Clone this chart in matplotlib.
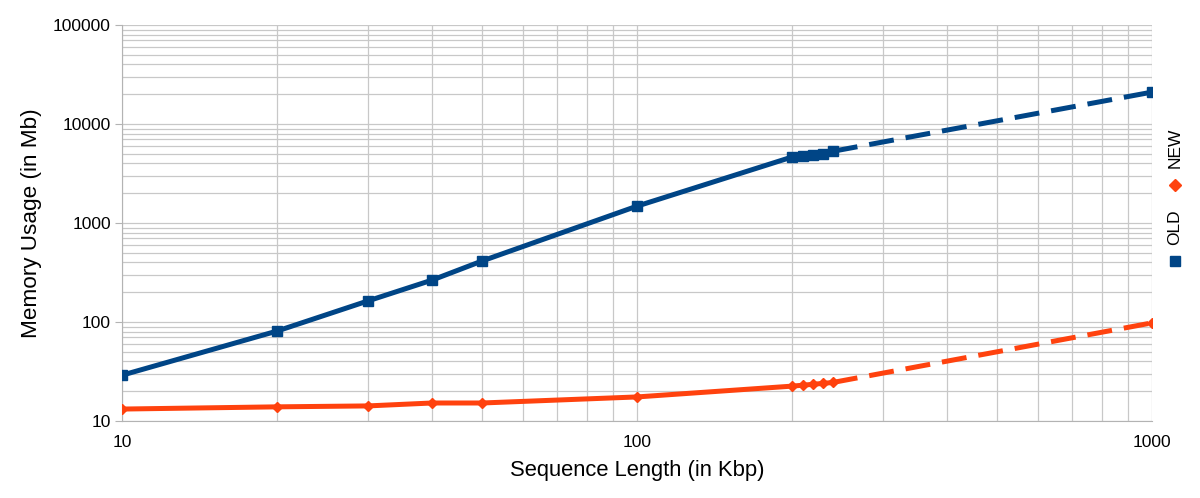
import matplotlib
matplotlib.use('Agg')
import matplotlib.pyplot as plt
from matplotlib.lines import Line2D

plt.rcParams['font.family'] = ['Liberation Sans', 'DejaVu Sans']

# measured points (solid part)
seq_len = [10, 20, 30, 40, 50, 100, 200, 210, 220, 230, 240]
old_mem = [29, 81, 163, 265, 413, 1480, 4640, 4800, 4900, 5000, 5300]
new_mem = [13.2, 13.9, 14.2, 15.2, 15.2, 17.5, 22.5, 23, 23.5, 24, 24.5]

# extrapolated part (dashed)
ext_len = [240, 1000]
old_ext = [5300, 21000]
new_ext = [24.5, 98]

blue = '#004586'
orange = '#ff420e'
lw = 3.6
dash = (0, (5, 2.4))

fig = plt.figure(figsize=(12, 4.98), dpi=100)
ax = fig.add_axes([122/1200, 77/498, 1030/1200, 396/498])

ax.plot(seq_len, old_mem, color=blue, lw=lw, marker='s', ms=7, zorder=3)
ax.plot(ext_len, old_ext, color=blue, lw=lw, ls=dash, zorder=3)
ax.plot([1000], [old_ext[-1]], color=blue, marker='s', ms=7, ls='none', zorder=3)

ax.plot(seq_len, new_mem, color=orange, lw=lw, marker='D', ms=5, zorder=3)
ax.plot(ext_len, new_ext, color=orange, lw=lw, ls=dash, zorder=3)
ax.plot([1000], [new_ext[-1]], color=orange, marker='D', ms=5.5, ls='none', zorder=3)

ax.set_xscale('log')
ax.set_yscale('log')
ax.set_xlim(10, 1000)
ax.set_ylim(10, 100000)

ax.set_xticks([10, 100, 1000])
ax.set_xticklabels(['10', '100', '1000'])
ax.set_yticks([10, 100, 1000, 10000, 100000])
ax.set_yticklabels(['10', '100', '1000', '10000', '100000'])

ax.grid(True, which='both', color='#c8c8c8', lw=0.9)
ax.set_axisbelow(True)
for s in ax.spines.values():
    s.set_visible(False)
ax.spines['left'].set_visible(True)
ax.spines['left'].set_color('#b3b3b3')
ax.spines['bottom'].set_visible(True)
ax.spines['bottom'].set_color('#b3b3b3')
ax.tick_params(which='major', length=5, color='#b3b3b3', labelsize=12.5, pad=3)
ax.tick_params(which='minor', length=0)
ax.tick_params(axis='x', length=0, pad=10)

ax.set_xlabel('Sequence Length (in Kbp)', fontsize=15.8, labelpad=7)
ax.set_ylabel('Memory Usage (in Mb)', fontsize=16.2, labelpad=8)

# vertical legend at the right
fig.add_artist(Line2D([1175/1200], [1 - 261/498], marker='s', ms=7, color=blue, ls='none',
                      transform=fig.transFigure))
fig.text(1175/1200, 1 - 227/498, 'OLD', rotation=90, ha='center', va='center', fontsize=12.5)
fig.add_artist(Line2D([1175/1200], [1 - 185/498], marker='D', ms=6, color=orange, ls='none',
                      transform=fig.transFigure))
fig.text(1175/1200, 1 - 148/498, 'NEW', rotation=90, ha='center', va='center', fontsize=12.5)

fig.savefig('out.png', dpi=100)
